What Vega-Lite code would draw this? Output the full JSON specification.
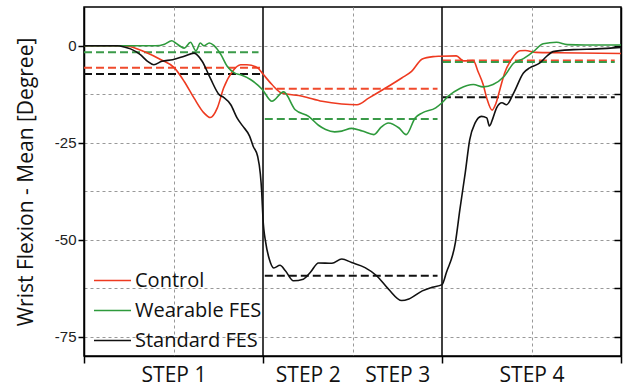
{
  "$schema": "https://vega.github.io/schema/vega-lite/v6.json",
  "width": 537,
  "height": 349,
  "autosize": {"type": "none"},
  "padding": {"left": 84, "top": 7, "right": 4, "bottom": 35},
  "config": {"view": {"stroke": "#000", "strokeWidth": 1.5}, "font": "Open Sans"},
  "datasets": {
    "steps": [{"x": 2}, {"x": 4}],
    "means": [
      {"series": "Control", "seg": 1, "x": 0, "y": -5.66}, {"series": "Control", "seg": 1, "x": 1.97, "y": -5.66},
      {"series": "Control", "seg": 2, "x": 2.02, "y": -11.05}, {"series": "Control", "seg": 2, "x": 3.95, "y": -11.05},
      {"series": "Control", "seg": 3, "x": 4.01, "y": -3.8}, {"series": "Control", "seg": 3, "x": 5.93, "y": -3.8},
      {"series": "Wearable FES", "seg": 1, "x": 0, "y": -1.7}, {"series": "Wearable FES", "seg": 1, "x": 1.95, "y": -1.7},
      {"series": "Wearable FES", "seg": 2, "x": 2.02, "y": -18.9}, {"series": "Wearable FES", "seg": 2, "x": 3.95, "y": -18.9},
      {"series": "Wearable FES", "seg": 3, "x": 4.01, "y": -4.2}, {"series": "Wearable FES", "seg": 3, "x": 5.93, "y": -4.2},
      {"series": "Standard FES", "seg": 1, "x": 0, "y": -7.3}, {"series": "Standard FES", "seg": 1, "x": 1.97, "y": -7.3},
      {"series": "Standard FES", "seg": 2, "x": 2.02, "y": -59.3}, {"series": "Standard FES", "seg": 2, "x": 3.95, "y": -59.3},
      {"series": "Standard FES", "seg": 3, "x": 4.01, "y": -13.3}, {"series": "Standard FES", "seg": 3, "x": 5.93, "y": -13.3}
    ],
    "curves": [
      {"series": "Control", "x": 0, "y": 0}, {"series": "Control", "x": 0.45, "y": 0}, {"series": "Control", "x": 0.56, "y": -0.5},
      {"series": "Control", "x": 0.67, "y": -1.5}, {"series": "Control", "x": 0.86, "y": -3.6}, {"series": "Control", "x": 1.01, "y": -5.7},
      {"series": "Control", "x": 1.12, "y": -9.2}, {"series": "Control", "x": 1.23, "y": -13.5}, {"series": "Control", "x": 1.34, "y": -17.3},
      {"series": "Control", "x": 1.41, "y": -18.5}, {"series": "Control", "x": 1.49, "y": -16.0}, {"series": "Control", "x": 1.56, "y": -10.9},
      {"series": "Control", "x": 1.66, "y": -6.6}, {"series": "Control", "x": 1.75, "y": -4.9}, {"series": "Control", "x": 1.82, "y": -4.9},
      {"series": "Control", "x": 1.94, "y": -5.7}, {"series": "Control", "x": 2.0, "y": -7.3}, {"series": "Control", "x": 2.1, "y": -10.0},
      {"series": "Control", "x": 2.21, "y": -12.2}, {"series": "Control", "x": 2.44, "y": -13.0}, {"series": "Control", "x": 2.66, "y": -14.3},
      {"series": "Control", "x": 2.88, "y": -15.0}, {"series": "Control", "x": 3.05, "y": -15.2}, {"series": "Control", "x": 3.18, "y": -13.5},
      {"series": "Control", "x": 3.37, "y": -10.9}, {"series": "Control", "x": 3.55, "y": -8.3}, {"series": "Control", "x": 3.66, "y": -6.6},
      {"series": "Control", "x": 3.78, "y": -3.4}, {"series": "Control", "x": 3.9, "y": -2.8}, {"series": "Control", "x": 3.98, "y": -2.7},
      {"series": "Control", "x": 4.16, "y": -2.6}, {"series": "Control", "x": 4.24, "y": -3.9}, {"series": "Control", "x": 4.35, "y": -3.8},
      {"series": "Control", "x": 4.4, "y": -6.5}, {"series": "Control", "x": 4.46, "y": -10.0}, {"series": "Control", "x": 4.5, "y": -13.5},
      {"series": "Control", "x": 4.56, "y": -16.6}, {"series": "Control", "x": 4.6, "y": -15.0}, {"series": "Control", "x": 4.65, "y": -11.0},
      {"series": "Control", "x": 4.7, "y": -7.0}, {"series": "Control", "x": 4.78, "y": -3.4}, {"series": "Control", "x": 4.87, "y": -1.3},
      {"series": "Control", "x": 4.93, "y": -1.2}, {"series": "Control", "x": 5.05, "y": -1.7}, {"series": "Control", "x": 5.3, "y": -1.8},
      {"series": "Control", "x": 6, "y": -2.0},
      {"series": "Wearable FES", "x": 0, "y": 0}, {"series": "Wearable FES", "x": 0.8, "y": 0}, {"series": "Wearable FES", "x": 0.9, "y": 0.4},
      {"series": "Wearable FES", "x": 0.98, "y": 1.3}, {"series": "Wearable FES", "x": 1.03, "y": 0.6}, {"series": "Wearable FES", "x": 1.08, "y": -0.2},
      {"series": "Wearable FES", "x": 1.12, "y": -0.6}, {"series": "Wearable FES", "x": 1.19, "y": 0.9}, {"series": "Wearable FES", "x": 1.25, "y": -1.3},
      {"series": "Wearable FES", "x": 1.3, "y": 0.7}, {"series": "Wearable FES", "x": 1.34, "y": 0}, {"series": "Wearable FES", "x": 1.4, "y": 0.7},
      {"series": "Wearable FES", "x": 1.45, "y": 0.1}, {"series": "Wearable FES", "x": 1.53, "y": -2.3}, {"series": "Wearable FES", "x": 1.6, "y": -5.3},
      {"series": "Wearable FES", "x": 1.68, "y": -7.0}, {"series": "Wearable FES", "x": 1.75, "y": -7.5}, {"series": "Wearable FES", "x": 1.86, "y": -8.7},
      {"series": "Wearable FES", "x": 1.99, "y": -11.2}, {"series": "Wearable FES", "x": 2.1, "y": -14.3}, {"series": "Wearable FES", "x": 2.23, "y": -11.9},
      {"series": "Wearable FES", "x": 2.36, "y": -16.5}, {"series": "Wearable FES", "x": 2.51, "y": -18.2}, {"series": "Wearable FES", "x": 2.62, "y": -20.5},
      {"series": "Wearable FES", "x": 2.7, "y": -21.6}, {"series": "Wearable FES", "x": 2.8, "y": -22.2}, {"series": "Wearable FES", "x": 2.88, "y": -22.0},
      {"series": "Wearable FES", "x": 2.99, "y": -21.3}, {"series": "Wearable FES", "x": 3.11, "y": -22.0}, {"series": "Wearable FES", "x": 3.24, "y": -22.9},
      {"series": "Wearable FES", "x": 3.32, "y": -21.0}, {"series": "Wearable FES", "x": 3.4, "y": -19.9}, {"series": "Wearable FES", "x": 3.52, "y": -21.2},
      {"series": "Wearable FES", "x": 3.6, "y": -22.9}, {"series": "Wearable FES", "x": 3.7, "y": -18.6}, {"series": "Wearable FES", "x": 3.78, "y": -17.3},
      {"series": "Wearable FES", "x": 3.93, "y": -16.0}, {"series": "Wearable FES", "x": 4.0, "y": -14.7}, {"series": "Wearable FES", "x": 4.07, "y": -13.0},
      {"series": "Wearable FES", "x": 4.2, "y": -11.0}, {"series": "Wearable FES", "x": 4.35, "y": -10.0}, {"series": "Wearable FES", "x": 4.46, "y": -10.6},
      {"series": "Wearable FES", "x": 4.57, "y": -10.0}, {"series": "Wearable FES", "x": 4.69, "y": -8.0}, {"series": "Wearable FES", "x": 4.8, "y": -4.5},
      {"series": "Wearable FES", "x": 4.91, "y": -3.3}, {"series": "Wearable FES", "x": 5.02, "y": -1.5}, {"series": "Wearable FES", "x": 5.13, "y": 0.5},
      {"series": "Wearable FES", "x": 5.28, "y": 0.9}, {"series": "Wearable FES", "x": 5.4, "y": 0.3}, {"series": "Wearable FES", "x": 5.6, "y": 0.2},
      {"series": "Wearable FES", "x": 6, "y": 0.2},
      {"series": "Standard FES", "x": 0, "y": 0}, {"series": "Standard FES", "x": 0.37, "y": 0}, {"series": "Standard FES", "x": 0.45, "y": -0.3},
      {"series": "Standard FES", "x": 0.52, "y": -0.8}, {"series": "Standard FES", "x": 0.63, "y": -2.3}, {"series": "Standard FES", "x": 0.71, "y": -4.0},
      {"series": "Standard FES", "x": 0.78, "y": -4.9}, {"series": "Standard FES", "x": 0.87, "y": -4.0}, {"series": "Standard FES", "x": 0.99, "y": -3.6},
      {"series": "Standard FES", "x": 1.12, "y": -2.7}, {"series": "Standard FES", "x": 1.23, "y": -1.9}, {"series": "Standard FES", "x": 1.32, "y": -4.0},
      {"series": "Standard FES", "x": 1.41, "y": -8.3}, {"series": "Standard FES", "x": 1.51, "y": -12.6}, {"series": "Standard FES", "x": 1.56, "y": -13.3},
      {"series": "Standard FES", "x": 1.64, "y": -15.2}, {"series": "Standard FES", "x": 1.71, "y": -18.6}, {"series": "Standard FES", "x": 1.77, "y": -20.6},
      {"series": "Standard FES", "x": 1.85, "y": -23.3}, {"series": "Standard FES", "x": 1.89, "y": -25.9}, {"series": "Standard FES", "x": 1.94, "y": -28.5},
      {"series": "Standard FES", "x": 1.97, "y": -33.0}, {"series": "Standard FES", "x": 1.985, "y": -37.5}, {"series": "Standard FES", "x": 2.0, "y": -44.7},
      {"series": "Standard FES", "x": 2.03, "y": -50.7}, {"series": "Standard FES", "x": 2.07, "y": -55.0}, {"series": "Standard FES", "x": 2.12, "y": -57.3},
      {"series": "Standard FES", "x": 2.19, "y": -56.6}, {"series": "Standard FES", "x": 2.25, "y": -58.0}, {"series": "Standard FES", "x": 2.34, "y": -60.6},
      {"series": "Standard FES", "x": 2.45, "y": -60.2}, {"series": "Standard FES", "x": 2.53, "y": -58.4}, {"series": "Standard FES", "x": 2.62, "y": -56.0},
      {"series": "Standard FES", "x": 2.77, "y": -56.1}, {"series": "Standard FES", "x": 2.88, "y": -55.0}, {"series": "Standard FES", "x": 2.99, "y": -55.9},
      {"series": "Standard FES", "x": 3.14, "y": -57.2}, {"series": "Standard FES", "x": 3.27, "y": -59.3}, {"series": "Standard FES", "x": 3.4, "y": -62.7},
      {"series": "Standard FES", "x": 3.55, "y": -65.7}, {"series": "Standard FES", "x": 3.63, "y": -65.3}, {"series": "Standard FES", "x": 3.78, "y": -63.2},
      {"series": "Standard FES", "x": 3.89, "y": -62.3}, {"series": "Standard FES", "x": 4.0, "y": -61.6}, {"series": "Standard FES", "x": 4.05, "y": -58.4},
      {"series": "Standard FES", "x": 4.15, "y": -50.7}, {"series": "Standard FES", "x": 4.2, "y": -42.2}, {"series": "Standard FES", "x": 4.26, "y": -32.7},
      {"series": "Standard FES", "x": 4.31, "y": -24.2}, {"series": "Standard FES", "x": 4.37, "y": -19.9}, {"series": "Standard FES", "x": 4.44, "y": -18.2},
      {"series": "Standard FES", "x": 4.5, "y": -18.6}, {"series": "Standard FES", "x": 4.53, "y": -20.7}, {"series": "Standard FES", "x": 4.57, "y": -18.6},
      {"series": "Standard FES", "x": 4.61, "y": -16.0}, {"series": "Standard FES", "x": 4.67, "y": -14.7}, {"series": "Standard FES", "x": 4.72, "y": -15.2},
      {"series": "Standard FES", "x": 4.8, "y": -12.2}, {"series": "Standard FES", "x": 4.91, "y": -7.0}, {"series": "Standard FES", "x": 4.98, "y": -5.7},
      {"series": "Standard FES", "x": 5.09, "y": -4.5}, {"series": "Standard FES", "x": 5.17, "y": -2.7}, {"series": "Standard FES", "x": 5.24, "y": -1.5},
      {"series": "Standard FES", "x": 5.47, "y": -1.0}, {"series": "Standard FES", "x": 5.73, "y": -0.8}, {"series": "Standard FES", "x": 6, "y": -0.4}
    ]
  },
  "layer": [
    {
      "data": {"name": "steps"},
      "mark": {"type": "rule", "color": "#000", "strokeWidth": 1.5},
      "encoding": {
        "x": {"field": "x", "type": "quantitative", "scale": {"domain": [0, 6], "nice": false, "zero": false}}
      }
    },
    {
      "data": {"name": "means"},
      "mark": {"type": "line", "strokeDash": [8, 4], "strokeWidth": 2},
      "encoding": {
        "x": {"field": "x", "type": "quantitative"},
        "y": {
          "field": "y", "type": "quantitative",
          "axis": {
            "orient": "right", "values": [-75, -62.5, -50, -37.5, -25, -12.5, 0],
            "labels": false, "grid": false, "title": null,
            "tickSize": -7, "tickColor": "#000", "tickWidth": 1.5,
            "domainColor": "#000", "domainWidth": 1.5
          }
        },
        "stroke": {"field": "series", "type": "nominal", "legend": null,
          "scale": {"domain": ["Standard FES", "Wearable FES", "Control"], "range": ["#111111", "#3a9a48", "#f04a2c"]}},
        "detail": {"field": "seg", "type": "nominal"}
      }
    },
    {
      "data": {"name": "curves"},
      "mark": {"type": "line", "strokeWidth": 1.6, "interpolate": "monotone"},
      "encoding": {
        "x": {
          "field": "x", "type": "quantitative",
          "scale": {"domain": [0, 6], "nice": false, "zero": false},
          "axis": {
            "title": null,
            "values": [0, 1, 2, 2.5, 3, 3.5, 4, 5, 6],
            "labelExpr": "datum.value == 1 ? 'STEP 1' : datum.value == 2.5 ? 'STEP 2' : datum.value == 3.5 ? 'STEP 3' : datum.value == 5 ? 'STEP 4' : ''",
            "labelFont": "Open Sans", "labelFontSize": 21, "labelColor": "#111", "labelPadding": 1,
            "labelFlush": false, "labelOverlap": false,
            "tickSize": 7, "tickColor": "#000", "tickWidth": 1.5,
            "tickOpacity": {"condition": {"test": "datum.value == 0 || datum.value == 2 || datum.value == 4 || datum.value == 6", "value": 1}, "value": 0},
            "domainColor": "#000", "domainWidth": 1.5,
            "grid": true, "gridColor": "#999", "gridDash": [3, 3], "gridWidth": 1,
            "gridOpacity": {"condition": {"test": "datum.value == 1 || datum.value == 3 || datum.value == 5", "value": 1}, "value": 0}
          }
        },
        "y": {
          "field": "y", "type": "quantitative",
          "scale": {"domain": [-80, 10], "nice": false, "zero": false},
          "axis": {
            "orient": "left",
            "title": "Wrist Flexion - Mean [Degree]",
            "titleFont": "Open Sans", "titleFontSize": 21, "titleFontWeight": "normal", "titleColor": "#111",
            "titleX": -58, "titleY": 174.5, "titleBaseline": "middle", "titleAngle": -90,
            "values": [-75, -62.5, -50, -37.5, -25, -12.5, 0],
            "labelExpr": "datum.value % 25 == 0 ? toString(datum.value) : ''",
            "labelFont": "Liberation Sans", "labelFontSize": 15, "labelColor": "#222", "labelPadding": 2,
            "tickSize": 6, "tickColor": "#000", "tickWidth": 1.5,
            "tickOpacity": {"condition": {"test": "datum.value % 25 == 0", "value": 1}, "value": 0},
            "domainColor": "#000", "domainWidth": 1.5,
            "grid": true, "gridColor": "#999", "gridDash": [3, 3], "gridWidth": 1
          }
        },
        "color": {
          "field": "series", "type": "nominal",
          "scale": {"domain": ["Control", "Wearable FES", "Standard FES"], "range": ["#ee3a20", "#2e9a3c", "#111111"]},
          "legend": {
            "orient": "none", "legendX": 9, "legendY": 254, "title": null,
            "symbolType": "stroke", "symbolSize": 1369, "symbolStrokeWidth": 1.5,
            "labelFont": "Open Sans", "labelFontSize": 20, "labelColor": "#111", "labelOffset": 3,
            "rowPadding": -13, "padding": 0
          }
        },
        "order": {"field": "x", "type": "quantitative"}
      }
    }
  ],
  "resolve": {"axis": {"y": "independent"}}
}
